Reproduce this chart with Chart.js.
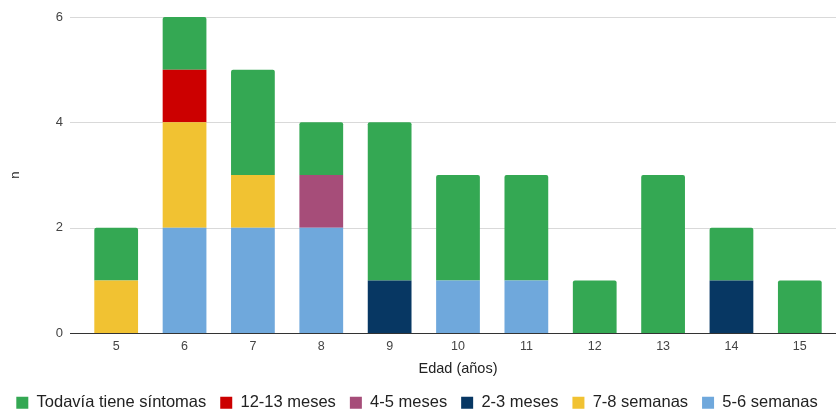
<!DOCTYPE html>
<html>
<head>
<meta charset="utf-8">
<script src="https://cdn.jsdelivr.net/npm/chart.js@4/dist/chart.umd.min.js"></script>
<style>
  html, body { margin: 0; padding: 0; background: #fff; }
  #wrap { width: 836px; height: 410px; position: relative; }
</style>
</head>
<body>
<div id="wrap"><canvas id="c" width="836" height="410"></canvas></div>
<script>
// Edad en años
const edades = ['5', '6', '7', '8', '9', '10', '11', '12', '13', '14', '15'];

// Número de casos por duración de los síntomas (de abajo hacia arriba en la pila)
const semanas56   = [0, 2, 2, 2, 0, 1, 1, 0, 0, 0, 0];
const semanas78   = [1, 2, 1, 0, 0, 0, 0, 0, 0, 0, 0];
const meses23     = [0, 0, 0, 0, 1, 0, 0, 0, 0, 1, 0];
const meses45     = [0, 0, 0, 1, 0, 0, 0, 0, 0, 0, 0];
const meses1213   = [0, 1, 0, 0, 0, 0, 0, 0, 0, 0, 0];
const todavia     = [1, 1, 2, 1, 3, 2, 2, 1, 3, 1, 1];

const yTicks = [0, 2, 4, 6];

const FONT = "'Liberation Sans', Arial, sans-serif";

// Líneas horizontales de la cuadrícula, de borde a borde
const gridPlugin = {
  id: 'gridLines',
  beforeDatasetsDraw(chart) {
    const { ctx } = chart;
    const y = chart.scales.y;
    ctx.save();
    ctx.strokeStyle = '#d9d9d9';
    ctx.lineWidth = 1;
    yTicks.forEach(v => {
      if (v === 0) return;
      const py = Math.round(y.getPixelForValue(v)) + 0.5;
      ctx.beginPath();
      ctx.moveTo(70, py);
      ctx.lineTo(chart.width, py);
      ctx.stroke();
    });
    ctx.restore();
  },
  afterDatasetsDraw(chart) {
    const { ctx } = chart;
    const y = chart.scales.y;
    const py = Math.round(y.getPixelForValue(0)) + 0.5;
    ctx.save();
    ctx.strokeStyle = '#333333';
    ctx.lineWidth = 1;
    ctx.beginPath();
    ctx.moveTo(70, py);
    ctx.lineTo(chart.width, py);
    ctx.stroke();
    ctx.restore();
  }
};

const mk = (label, data, color) => ({
  label, data,
  backgroundColor: color,
  borderWidth: 0,
  borderRadius: 2,
  barPercentage: 0.64,
  categoryPercentage: 1.0
});

new Chart(document.getElementById('c'), {
  type: 'bar',
  data: {
    labels: edades,
    datasets: [
      mk('5-6 semanas', semanas56, '#6fa8dc'),
      mk('7-8 semanas', semanas78, '#f1c232'),
      mk('2-3 meses', meses23, '#073763'),
      mk('4-5 meses', meses45, '#a64d79'),
      mk('12-13 meses', meses1213, '#cc0000'),
      mk('Todavía tiene síntomas', todavia, '#34a853')
    ]
  },
  options: {
    responsive: false,
    animation: false,
    layout: { padding: { top: 17, right: 2, left: 0, bottom: -11 } },
    plugins: {
      tooltip: { enabled: false },
      legend: {
        position: 'bottom',
        reverse: true,
        labels: {
          font: { family: FONT, size: 16.5 },
          color: '#222222',
          boxWidth: 12,
          boxHeight: 12,
          padding: 14
        }
      }
    },
    scales: {
      x: {
        stacked: true,
        grid: { display: false },
        border: { display: false },
        ticks: { font: { family: FONT, size: 12.5 }, color: '#444444', padding: -2 },
        title: {
          display: true, text: 'Edad (años)',
          font: { family: FONT, size: 14.5 }, color: '#222222',
          padding: { top: 8, bottom: 3 }
        }
      },
      y: {
        stacked: true,
        min: 0, max: 6,
        afterBuildTicks(scale) { scale.ticks = yTicks.map(v => ({ value: v })); },
        afterFit(scale) {
          scale.width = 82;
          scale.paddingTop = 0;
          scale.paddingBottom = 0;
        },
        grid: { display: false, drawTicks: false },
        border: { display: false },
        ticks: { font: { family: FONT, size: 13 }, color: '#444444', padding: 19 },
        title: {
          display: true, text: 'n',
          font: { family: FONT, size: 13 }, color: '#222222',
          padding: { top: 8, bottom: 0 }
        }
      }
    }
  },
  plugins: [gridPlugin]
});
</script>
</body>
</html>
